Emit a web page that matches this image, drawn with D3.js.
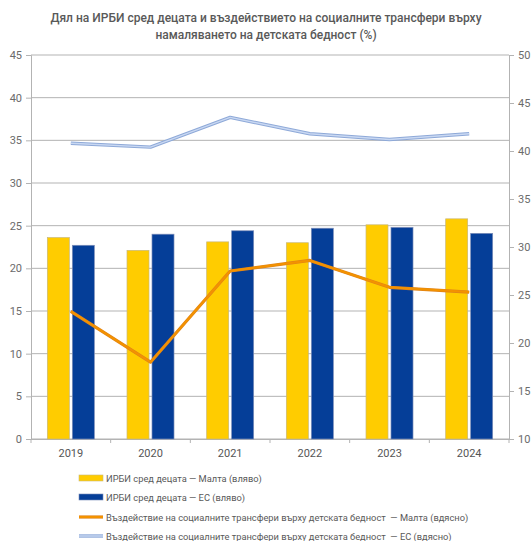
<!DOCTYPE html>
<html><head><meta charset="utf-8">
<script src="https://cdn.jsdelivr.net/npm/d3@7"></script>
<style>body{margin:0;background:#fff;}svg{display:block;font-family:Roboto,"Noto Sans",sans-serif;}</style>
</head><body>
<svg id="c" width="531" height="541"></svg>
<script>
const years = ["2019","2020","2021","2022","2023","2024"];
const maltaRate = [23.6, 22.1, 23.1, 23.0, 25.1, 25.8];
const euRate = [22.7, 24.0, 24.4, 24.7, 24.8, 24.1];
const maltaImpact = [23.3, 18.0, 27.5, 28.6, 25.8, 25.3];
const euImpact = [40.8, 40.4, 43.5, 41.8, 41.2, 41.8];
const leftTicks = [0,5,10,15,20,25,30,35,40,45];
const rightTicks = [10,15,20,25,30,35,40,45,50];
const titleLines = ["Дял на ИРБИ сред децата и въздействието на социалните трансфери върху","намаляването на детската бедност (%)"];
const legendLabels = ["ИРБИ сред децата — Малта (вляво)","ИРБИ сред децата — ЕС (вляво)","Въздействие на социалните трансфери върху детската бедност  — Малта (вдясно)","Въздействие на социалните трансфери върху детската бедност  — ЕС (вдясно)"];

const svg = d3.select("#c");
const L = 31, R = 509, T = 55, B = 439;
const x = d3.scaleBand().domain(years).range([L, R]);
const yL = d3.scaleLinear().domain([0,45]).range([B, T]);
const yR = d3.scaleLinear().domain([10,50]).range([B, T]);

const cYellow = "#FFCC00", cBlue = "#053E98", cOrange = "#F39200";

// title
svg.append("g").selectAll("text").data(titleLines).join("text")
  .attr("x", 266).attr("y", (d,i)=>22 + i*17).attr("text-anchor","middle")
  .attr("font-size", 12).attr("fill", "#595959").attr("font-weight", 500).text(d=>d);

// gridlines
svg.append("g").selectAll("line").data(leftTicks).join("line")
  .attr("x1", L).attr("x2", R).attr("y1", d=>yL(d)).attr("y2", d=>yL(d))
  .attr("stroke", "#b3b3b3").attr("stroke-width", 1);

const gL = svg.append("g").attr("transform", `translate(${L},0)`)
  .call(d3.axisLeft(yL).tickValues(leftTicks).tickSize(5).tickPadding(4));
const gR = svg.append("g").attr("transform", `translate(${R},0)`)
  .call(d3.axisRight(yR).tickValues(rightTicks).tickSize(5).tickPadding(4));
const gB = svg.append("g").attr("transform", `translate(0,${B})`)
  .call(d3.axisBottom(x).tickSize(0).tickPadding(10));
const edges = years.map(d=>x(d)).concat([R]);
svg.append("g").selectAll("line").data(edges).join("line")
  .attr("x1", d=>d).attr("x2", d=>d).attr("y1", B).attr("y2", B+4).attr("stroke", "#b3b3b3");

[gL, gR, gB].forEach(g => {
  g.selectAll("path.domain").attr("stroke", "#b3b3b3");
  g.selectAll(".tick line").attr("stroke", "#b3b3b3");
  g.selectAll(".tick text").attr("fill", "#6b6b6b").attr("font-size", 11).attr("font-family", "Roboto, sans-serif");
});
gB.selectAll(".tick text").attr("fill","#555").attr("font-size", 11);

// bars
const bw = 22, gap = 3;
const off = (x.bandwidth() - (2*bw + gap))/2;
svg.append("g").selectAll("rect").data(years).join("rect")
  .attr("x", d=>x(d)+off).attr("width", bw)
  .attr("y", (d,i)=>yL(maltaRate[i])).attr("height", (d,i)=>B - yL(maltaRate[i]))
  .attr("fill", cYellow).attr("stroke", "#c8b878").attr("stroke-width", 0.7);
svg.append("g").selectAll("rect").data(years).join("rect")
  .attr("x", d=>x(d)+off+bw+gap).attr("width", bw)
  .attr("y", (d,i)=>yL(euRate[i])).attr("height", (d,i)=>B - yL(euRate[i]))
  .attr("fill", cBlue).attr("stroke", "#7a8cb8").attr("stroke-width", 0.7);

// lines
const cx = d => x(d) + x.bandwidth()/2;
const lineM = d3.line().x((d,i)=>cx(years[i])).y(d=>yR(d));
svg.append("path").datum(maltaImpact).attr("d", lineM).attr("fill","none")
  .attr("stroke", "#e08418").attr("stroke-width", 3.2).attr("stroke-linejoin","round");
svg.append("path").datum(maltaImpact).attr("d", lineM).attr("fill","none")
  .attr("stroke", cOrange).attr("stroke-width", 2).attr("stroke-linejoin","round");
svg.append("path").datum(euImpact).attr("d", lineM).attr("fill","none")
  .attr("stroke", "#8ea9d8").attr("stroke-width", 3.4).attr("stroke-linejoin","round");
svg.append("path").datum(euImpact).attr("d", lineM).attr("fill","none")
  .attr("stroke", "#c9d8f2").attr("stroke-width", 1.4).attr("stroke-linejoin","round");

// legend
const ly = [478, 497, 517, 536];
const lg = svg.append("g");
legendLabels.forEach((lab, i) => {
  const y = ly[i];
  if (i === 0 || i === 1) {
    lg.append("rect").attr("x", 79).attr("y", y-3).attr("width", 24).attr("height", 6)
      .attr("fill", i===0 ? cYellow : cBlue).attr("stroke", i===0 ? "#c8b878" : "#7a8cb8").attr("stroke-width", 0.6);
  } else if (i === 2) {
    lg.append("line").attr("x1",79).attr("x2",103).attr("y1",y).attr("y2",y).attr("stroke","#e08418").attr("stroke-width",3.2);
    lg.append("line").attr("x1",79).attr("x2",103).attr("y1",y).attr("y2",y).attr("stroke",cOrange).attr("stroke-width",2);
  } else {
    lg.append("line").attr("x1",79).attr("x2",103).attr("y1",y).attr("y2",y).attr("stroke","#8ea9d8").attr("stroke-width",3.4);
    lg.append("line").attr("x1",79).attr("x2",103).attr("y1",y).attr("y2",y).attr("stroke","#c9d8f2").attr("stroke-width",1.4);
  }
  lg.append("text").attr("x", 106).attr("y", y+3.5).attr("font-size", 9.3).attr("fill", "#595959")
    .attr("xml:space","preserve").style("white-space","pre").text(lab);
});
</script>
</body></html>
